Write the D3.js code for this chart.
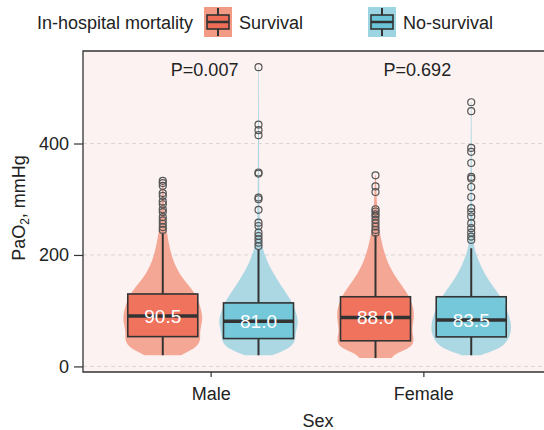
<!DOCTYPE html>
<html>
<head>
<meta charset="utf-8">
<script src="https://cdn.jsdelivr.net/npm/d3@7"></script>
<style>
  body { margin: 0; background: #fff; }
  text { font-family: "Liberation Sans", Arial, sans-serif; fill: #222; }
</style>
</head>
<body>
<svg id="svg" width="544" height="430"></svg>
<script>
// categories
var sexes = ['Male', 'Female'],
    groups = ['Survival', 'No-survival'],
    yTicks = [0, 200, 400],
    pLabels = ['P=0.007', 'P=0.692'];

// box stats, [sex][group]
var medians = [[90.5, 81.0], [88.0, 83.5]],
    q1 = [[53.5, 50], [46, 53]],
    q3 = [[130, 114], [125, 125]],
    whiskLo = [[20, 20], [15, 20]],
    whiskHi = [[240, 209], [236, 212]];

// outliers
var outMaleSurv = [333, 329, 324, 311, 306, 296, 291, 282, 277, 268, 262, 256, 250, 245],
    outMaleDead = [537, 434, 424, 415, 348, 346, 303, 300, 281, 258, 252, 240, 234, 228, 222, 216],
    outFemaleSurv = [343, 323, 313, 282, 278, 273, 269, 263, 257, 251, 245, 240],
    outFemaleDead = [474, 458, 392, 385, 365, 340, 337, 322, 304, 284, 277, 269, 257, 248, 240, 233, 227];

// violin profiles: [value, relative density]
var vioMaleSurv = [[20, 0.45], [24, 0.55], [35, 0.86], [48, 0.95], [62, 0.92], [83, 1.0], [101, 0.97], [132, 0.82], [155, 0.52], [179, 0.32], [203, 0.2], [239, 0.1], [280, 0.04], [333, 0.01]],
    vioMaleDead = [[20, 0.35], [22, 0.42], [30, 0.7], [42, 0.92], [60, 0.92], [78, 1.0], [96, 0.95], [119, 0.82], [143, 0.58], [167, 0.37], [191, 0.2], [221, 0.06], [260, 0.025], [350, 0.015], [430, 0.012], [537, 0.008]],
    vioFemaleSurv = [[15, 0.4], [24, 0.53], [35, 0.92], [48, 0.97], [65, 0.9], [87, 0.97], [107, 0.95], [132, 0.8], [155, 0.55], [179, 0.35], [203, 0.22], [239, 0.1], [280, 0.04], [343, 0.01]],
    vioFemaleDead = [[20, 0.25], [22, 0.3], [30, 0.65], [42, 0.88], [60, 1.0], [78, 1.0], [96, 0.92], [119, 0.8], [143, 0.55], [167, 0.32], [191, 0.18], [215, 0.05], [260, 0.03], [350, 0.015], [474, 0.008]];

var outliers = [[outMaleSurv, outMaleDead], [outFemaleSurv, outFemaleDead]],
    violins = [[vioMaleSurv, vioMaleDead], [vioFemaleSurv, vioFemaleDead]];

var boxFill = ['#ef6c57', '#6cc5d7'],
    vioFill = ['#f39a85', '#9dd4e1'],
    ink = '#333',
    fs = '18px';

var panel = {left: 83, right: 551, top: 51, bottom: 372};

var $svg = d3.select('#svg');

var x = d3.scalePoint().domain(sexes).range([panel.left, panel.right]).padding(0.6),
    dodge = d3.scaleBand().domain(groups)
        .range([-0.45 * x.step(), 0.45 * x.step()]),
    y = d3.scaleLinear().domain([-10, 566]).range([panel.bottom, panel.top]),
    w = d3.scaleLinear().domain([0, 1]).range([0, 40]);

var boxW = 70;

// panel background
$svg.append('rect')
    .attr('x', panel.left).attr('y', panel.top)
    .attr('width', panel.right - panel.left).attr('height', panel.bottom - panel.top)
    .attr('fill', '#fdf2f2');

// grid
$svg.append('g').selectAll('line').data(yTicks).enter().append('line')
    .attr('x1', panel.left).attr('x2', panel.right)
    .attr('y1', function (d) { return y(d); })
    .attr('y2', function (d) { return y(d); })
    .attr('stroke', '#cfcfcf').attr('stroke-width', 0.8)
    .attr('stroke-dasharray', '4,3');

var area = d3.area()
    .curve(d3.curveBasis);

sexes.forEach(function (sex, i) {
    groups.forEach(function (g, j) {
        var cx = x(sex) + dodge(g) + dodge.bandwidth() / 2;
        var $g = $svg.append('g').attr('class', 'group');

        // violin
        area
            .x0(function (d) { return cx - w(d[1]); })
            .x1(function (d) { return cx + w(d[1]); })
            .y(function (d) { return y(d[0]); });
        $g.append('path')
            .datum(violins[i][j])
            .attr('d', area)
            .attr('fill', vioFill[j])
            .attr('fill-opacity', 0.85);

        // whiskers
        $g.append('line')
            .attr('x1', cx).attr('x2', cx)
            .attr('y1', y(whiskHi[i][j])).attr('y2', y(q3[i][j]))
            .attr('stroke', ink).attr('stroke-width', 2);
        $g.append('line')
            .attr('x1', cx).attr('x2', cx)
            .attr('y1', y(q1[i][j])).attr('y2', y(whiskLo[i][j]))
            .attr('stroke', ink).attr('stroke-width', 2);

        // box
        $g.append('rect')
            .attr('x', cx - boxW / 2).attr('width', boxW)
            .attr('y', y(q3[i][j]))
            .attr('height', y(q1[i][j]) - y(q3[i][j]))
            .attr('fill', boxFill[j]).attr('fill-opacity', 0.88)
            .attr('stroke', ink).attr('stroke-width', 1.6);
        $g.append('line')
            .attr('x1', cx - boxW / 2).attr('x2', cx + boxW / 2)
            .attr('y1', y(medians[i][j])).attr('y2', y(medians[i][j]))
            .attr('stroke', ink).attr('stroke-width', 3.5);

        // outliers
        $g.selectAll('circle').data(outliers[i][j]).enter().append('circle')
            .attr('cx', cx)
            .attr('cy', function (d) { return y(d); })
            .attr('r', 3.5)
            .attr('fill', 'none')
            .attr('stroke', '#555').attr('stroke-width', 1.2);

        // median label
        $g.append('text')
            .attr('x', cx).attr('y', y(medians[i][j]))
            .attr('dy', '0.36em')
            .attr('text-anchor', 'middle')
            .style('fill', '#fff')
            .style('font-size', '19px')
            .text(medians[i][j].toFixed(1));
    });

    $svg.append('text')
        .attr('x', x(sex) - 6).attr('y', 76)
        .attr('text-anchor', 'middle')
        .style('font-size', fs)
        .text(pLabels[i]);
});

// panel borders
$svg.append('path')
    .attr('d', 'M' + panel.right + ',' + panel.top + 'H' + panel.left + 'V' + panel.bottom + 'H' + panel.right)
    .attr('fill', 'none').attr('stroke', ink).attr('stroke-width', 1.3);

// y axis
var $yAxis = $svg.append('g')
    .attr('transform', 'translate(' + panel.left + ',0)')
    .call(d3.axisLeft(y).tickValues(yTicks).tickSize(9).tickPadding(5));
$yAxis.select('.domain').remove();
$yAxis.selectAll('line').attr('stroke', ink).attr('stroke-width', 1.2);
$yAxis.selectAll('text').style('font-size', fs).style('fill', '#222')
    .attr('font-family', null);

// x axis
var $xAxis = $svg.append('g')
    .attr('transform', 'translate(0,' + panel.bottom + ')')
    .call(d3.axisBottom(x).tickSize(5).tickPadding(10));
$xAxis.select('.domain').remove();
$xAxis.selectAll('line').attr('stroke', ink).attr('stroke-width', 1.2);
$xAxis.selectAll('text').style('font-size', fs).style('fill', '#222')
    .attr('font-family', null);

// axis titles
$svg.append('text')
    .attr('x', 318).attr('y', 427)
    .attr('text-anchor', 'middle')
    .style('font-size', fs)
    .text('Sex');

var $yt = $svg.append('text')
    .attr('transform', 'translate(25,208) rotate(-90)')
    .attr('text-anchor', 'middle')
    .style('font-size', fs);
$yt.append('tspan').text('PaO');
$yt.append('tspan').attr('dy', 4).style('font-size', '12px').text('2');
$yt.append('tspan').attr('dy', -4).text(', mmHg');

// legend
$svg.append('text')
    .attr('x', 37).attr('y', 29)
    .style('font-size', fs)
    .text('In-hospital mortality');

var legendX = [204, 368];
groups.forEach(function (g, j) {
    var $k = $svg.append('g')
        .attr('transform', 'translate(' + legendX[j] + ',7)');
    $k.append('rect').attr('width', 28).attr('height', 30).attr('fill', vioFill[j]);
    $k.append('line').attr('x1', 14).attr('x2', 14).attr('y1', 1).attr('y2', 29)
        .attr('stroke', ink).attr('stroke-width', 2);
    $k.append('rect').attr('x', 3).attr('y', 8).attr('width', 22).attr('height', 14)
        .attr('fill', boxFill[j]).attr('stroke', ink).attr('stroke-width', 1.6);
    $k.append('line').attr('x1', 3).attr('x2', 25).attr('y1', 15).attr('y2', 15)
        .attr('stroke', ink).attr('stroke-width', 2.5);
    $svg.append('text')
        .attr('x', legendX[j] + 35).attr('y', 29)
        .style('font-size', fs)
        .text(g);
});
</script>
</body>
</html>
